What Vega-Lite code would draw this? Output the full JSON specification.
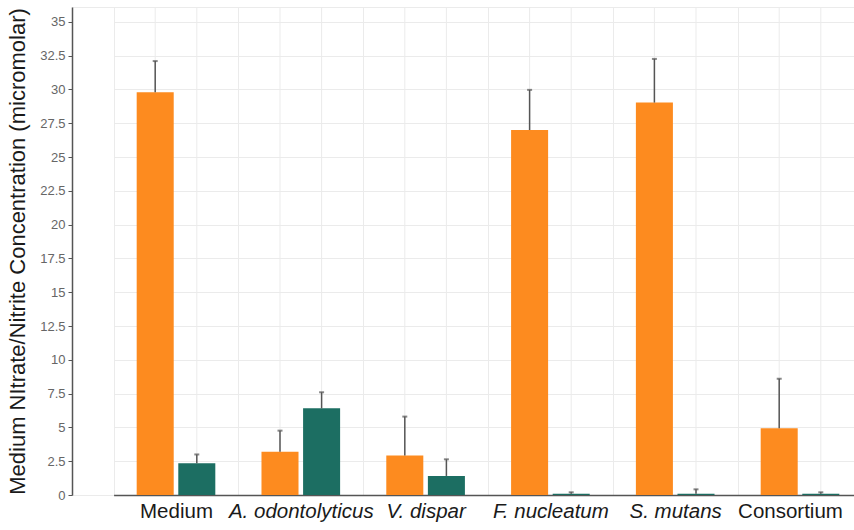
{
  "$schema": "https://vega.github.io/schema/vega-lite/v6.json",
  "width": 782,
  "height": 488,
  "autosize": {"type": "none"},
  "padding": {"left": 72, "top": 7, "right": 0, "bottom": 35},
  "background": "white",
  "config": {
    "font": "Liberation Sans",
    "view": {"stroke": "#ebebeb", "strokeWidth": 1}
  },
  "data": {
    "values": [
      {"group": "Medium", "series": "Nitrate", "value": 29.8, "upper": 32.1},
      {"group": "Medium", "series": "Nitrite", "value": 2.35, "upper": 3.0},
      {"group": "A. odontolyticus", "series": "Nitrate", "value": 3.2, "upper": 4.76},
      {"group": "A. odontolyticus", "series": "Nitrite", "value": 6.41, "upper": 7.6},
      {"group": "V. dispar", "series": "Nitrate", "value": 2.93, "upper": 5.8},
      {"group": "V. dispar", "series": "Nitrite", "value": 1.41, "upper": 2.64},
      {"group": "F. nucleatum", "series": "Nitrate", "value": 27.0, "upper": 29.97},
      {"group": "F. nucleatum", "series": "Nitrite", "value": 0.1, "upper": 0.2},
      {"group": "S. mutans", "series": "Nitrate", "value": 29.03, "upper": 32.26},
      {"group": "S. mutans", "series": "Nitrite", "value": 0.1, "upper": 0.42},
      {"group": "Consortium", "series": "Nitrate", "value": 4.93, "upper": 8.6},
      {"group": "Consortium", "series": "Nitrite", "value": 0.1, "upper": 0.2}
    ]
  },
  "encoding": {
    "x": {
      "field": "group",
      "type": "nominal",
      "sort": null,
      "scale": {"range": [41.6, 790.4], "paddingInner": 0, "paddingOuter": 0},
      "axis": {
        "title": null,
        "labelAngle": 0,
        "labelFontSize": 20.5,
        "labelColor": "#1a1a1a",
        "labelPadding": 6,
        "labelFontStyle": {"condition": {"test": "datum.value === 'Medium' || datum.value === 'Consortium'", "value": "normal"}, "value": "italic"},
        "labelOffset": {"condition": {"test": "datum.value === 'Consortium'", "value": -10}, "value": 0},
        "ticks": false,
        "tickBand": "extent",
        "grid": true,
        "gridColor": "#ebebeb",
        "domainColor": "#555555",
        "domainWidth": 1.5,
        "labelOverlap": false,
        "labelBound": false
      }
    },
    "xOffset": {
      "field": "series",
      "type": "nominal",
      "scale": {"paddingInner": 0.11, "paddingOuter": 0.555}
    },
    "y": {
      "field": "value",
      "type": "quantitative",
      "scale": {"domain": [0, 36.1], "nice": false},
      "axis": {
        "title": "Medium NItrate/Nitrite Concentration (micromolar)",
        "titleFontSize": 22,
        "titleFontWeight": "normal",
        "titleColor": "#1a1a1a",
        "titlePadding": 10,
        "values": [0, 2.5, 5, 7.5, 10, 12.5, 15, 17.5, 20, 22.5, 25, 27.5, 30, 32.5, 35],
        "labelExpr": "format(datum.value, '.1~f')",
        "labelFontSize": 13,
        "labelColor": "#666666",
        "labelPadding": 3,
        "tickColor": "#555555",
        "tickSize": 4,
        "grid": true,
        "gridColor": "#ebebeb",
        "domainColor": "#555555",
        "domainWidth": 1.5,
        "labelOverlap": false
      }
    }
  },
  "layer": [
    {
      "mark": {"type": "rule", "color": "#ebebeb", "strokeWidth": 1},
      "encoding": {"y": null}
    },
    {
      "mark": {"type": "bar"},
      "encoding": {
        "color": {
          "field": "series",
          "type": "nominal",
          "scale": {"domain": ["Nitrate", "Nitrite"], "range": ["#fd8b1f", "#1c6e62"]},
          "legend": null
        }
      }
    },
    {
      "mark": {"type": "rule", "color": "#555555", "strokeWidth": 1.5},
      "encoding": {
        "y2": {"field": "upper"}
      }
    },
    {
      "mark": {"type": "tick", "color": "#555555", "size": 5, "thickness": 2, "orient": "horizontal"},
      "encoding": {
        "y": {"field": "upper", "type": "quantitative"}
      }
    }
  ]
}
